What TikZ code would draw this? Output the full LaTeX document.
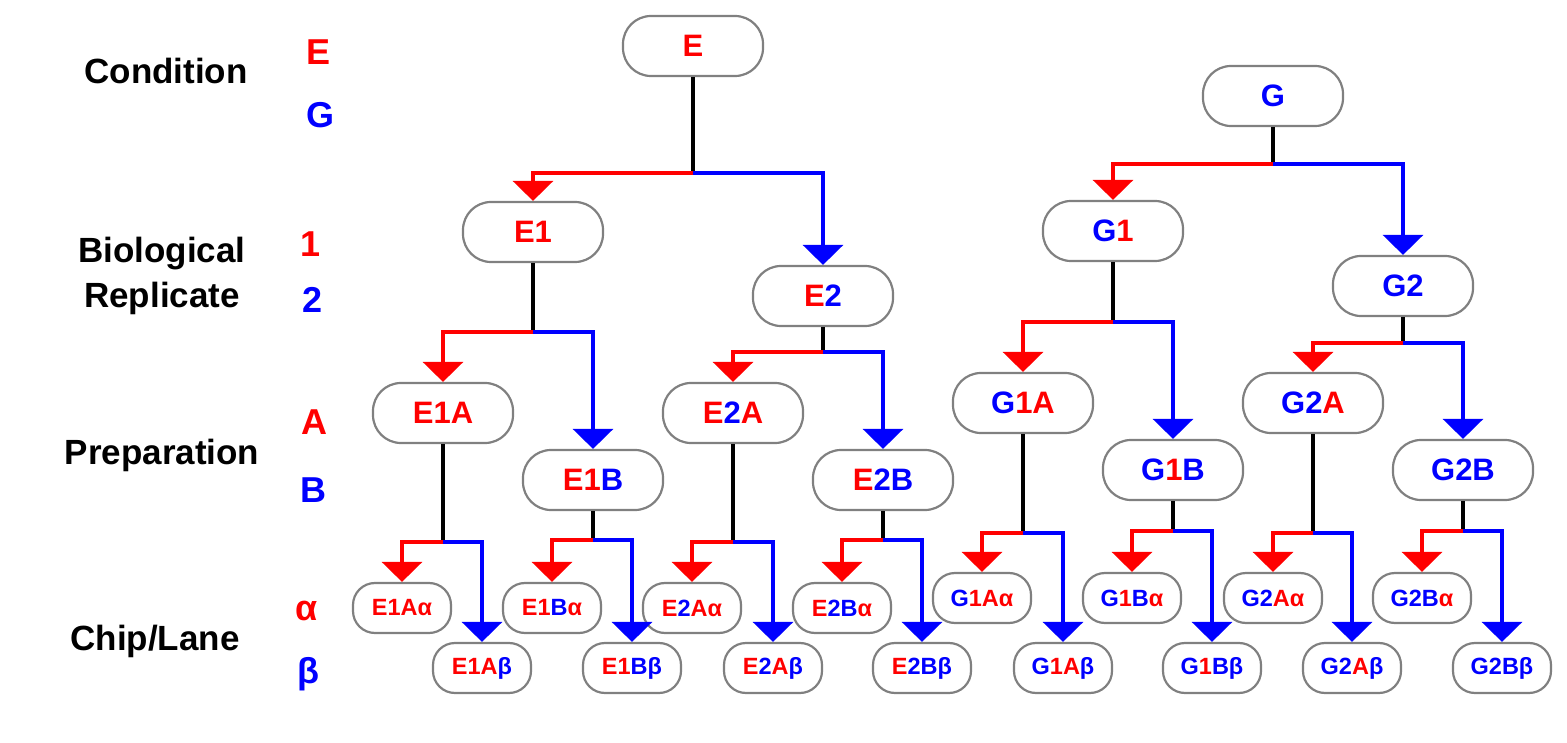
\documentclass[tikz,border=0pt]{standalone}
\usepackage{fontspec}
\setmainfont{Liberation Sans}
\usetikzlibrary{arrows.meta}
\newcommand\colR[1]{\textcolor{red}{#1}}
\newcommand\colB[1]{\textcolor{blue}{#1}}
% stem from a parent down to its bus, then red to the left child, blue to the right one
\newcommand\splitto[4]{%
  \draw[stem] (#1.south) -- (#1.south |- 0,#2) coordinate (#1-bus);
  \draw[redarr] (#1-bus) -| (#3.north);
  \draw[bluearr] (#1-bus) -| (#4.north);}
\begin{document}
\begin{tikzpicture}[x=1pt, y=-1pt,
    box/.style={draw=gray, line width=2.2pt, rounded corners=28pt, minimum width=140pt, minimum height=60pt, inner sep=0pt, font=\fontsize{31}{31}\selectfont\bfseries},
    chip/.style={box, rounded corners=22pt, minimum width=98pt, minimum height=50pt, font=\fontsize{23.5}{23.5}\selectfont\bfseries},
    level/.style={anchor=base, font=\fontsize{35}{35}\selectfont\bfseries},
    key/.style={anchor=base, font=\fontsize{36}{36}\selectfont\bfseries},
    stem/.style={line width=3.5pt},
    redarr/.style={red, line width=3.5pt, -{Triangle[width=40pt,length=20pt]}},
    bluearr/.style={blue, line width=3.5pt, -{Triangle[width=40pt,length=20pt]}}]
    \useasboundingbox (0,0) rectangle (1567,743);

    % levels on the left
    \node[level] (cond) at (166,84) {Condition};
    \node[level] (bio) at (162,263) {Biological};
    \node[level] (rep) at (162,308) {Replicate};
    \node[level] (prep) at (162,464) {Preparation};
    \node[level] (lane) at (155,650) {Chip/Lane};
    \node[key, red] (kE) at (319,65) {E};
    \node[key, blue] (kG) at (320,128) {G};
    \node[key, red] (k1) at (311,257) {1};
    \node[key, blue] (k2) at (313,313) {2};
    \node[key, red] (kA) at (314,435) {A};
    \node[key, blue] (kB) at (313,502) {B};
    \node[key, red] (ka) at (307,620) {α};
    \node[key, blue] (kb) at (308,683) {β};

    % conditions and replicates
    \node[box] (E) at (693,46) {\colR{E}};
    \node[box] (G) at (1273,96) {\colB{G}};
    \node[box] (E1) at (533,232) {\colR{E1}};
    \node[box] (E2) at (823,296) {\colR{E}\colB{2}};
    \node[box] (G1) at (1113,231) {\colB{G}\colR{1}};
    \node[box] (G2) at (1403,286) {\colB{G2}};

    % preparations
    \node[box] (E1A) at (443,413) {\colR{E1A}};
    \node[box] (E1B) at (593,480) {\colR{E1}\colB{B}};
    \node[box] (E2A) at (733,413) {\colR{E}\colB{2}\colR{A}};
    \node[box] (E2B) at (883,480) {\colR{E}\colB{2B}};
    \node[box] (G1A) at (1023,403) {\colB{G}\colR{1A}};
    \node[box] (G1B) at (1173,470) {\colB{G}\colR{1}\colB{B}};
    \node[box] (G2A) at (1313,403) {\colB{G2}\colR{A}};
    \node[box] (G2B) at (1463,470) {\colB{G2B}};

    % chips and lanes
    \node[chip] (E1Aa) at (402,608) {\colR{E1Aα}};
    \node[chip] (E1Ab) at (482,668) {\colR{E1A}\colB{β}};
    \node[chip] (E1Ba) at (552,608) {\colR{E1}\colB{B}\colR{α}};
    \node[chip] (E1Bb) at (632,668) {\colR{E1}\colB{Bβ}};
    \node[chip] (E2Aa) at (692,608) {\colR{E}\colB{2}\colR{Aα}};
    \node[chip] (E2Ab) at (773,668) {\colR{E}\colB{2}\colR{A}\colB{β}};
    \node[chip] (E2Ba) at (842,608) {\colR{E}\colB{2B}\colR{α}};
    \node[chip] (E2Bb) at (922,668) {\colR{E}\colB{2Bβ}};
    \node[chip] (G1Aa) at (982,598) {\colB{G}\colR{1Aα}};
    \node[chip] (G1Ab) at (1063,668) {\colB{G}\colR{1A}\colB{β}};
    \node[chip] (G1Ba) at (1132,598) {\colB{G}\colR{1}\colB{B}\colR{α}};
    \node[chip] (G1Bb) at (1212,668) {\colB{G}\colR{1}\colB{Bβ}};
    \node[chip] (G2Aa) at (1273,598) {\colB{G2}\colR{Aα}};
    \node[chip] (G2Ab) at (1352,668) {\colB{G2}\colR{A}\colB{β}};
    \node[chip] (G2Ba) at (1422,598) {\colB{G2B}\colR{α}};
    \node[chip] (G2Bb) at (1502,668) {\colB{G2Bβ}};

    % connectors
    \splitto{E}{173}{E1}{E2}
    \splitto{G}{164}{G1}{G2}
    \splitto{E1}{332}{E1A}{E1B}
    \splitto{E2}{352}{E2A}{E2B}
    \splitto{G1}{322}{G1A}{G1B}
    \splitto{G2}{343}{G2A}{G2B}
    \splitto{E1A}{542}{E1Aa}{E1Ab}
    \splitto{E1B}{540}{E1Ba}{E1Bb}
    \splitto{E2A}{542}{E2Aa}{E2Ab}
    \splitto{E2B}{540}{E2Ba}{E2Bb}
    \splitto{G1A}{533}{G1Aa}{G1Ab}
    \splitto{G1B}{531}{G1Ba}{G1Bb}
    \splitto{G2A}{533}{G2Aa}{G2Ab}
    \splitto{G2B}{531}{G2Ba}{G2Bb}
\end{tikzpicture}
\end{document}
